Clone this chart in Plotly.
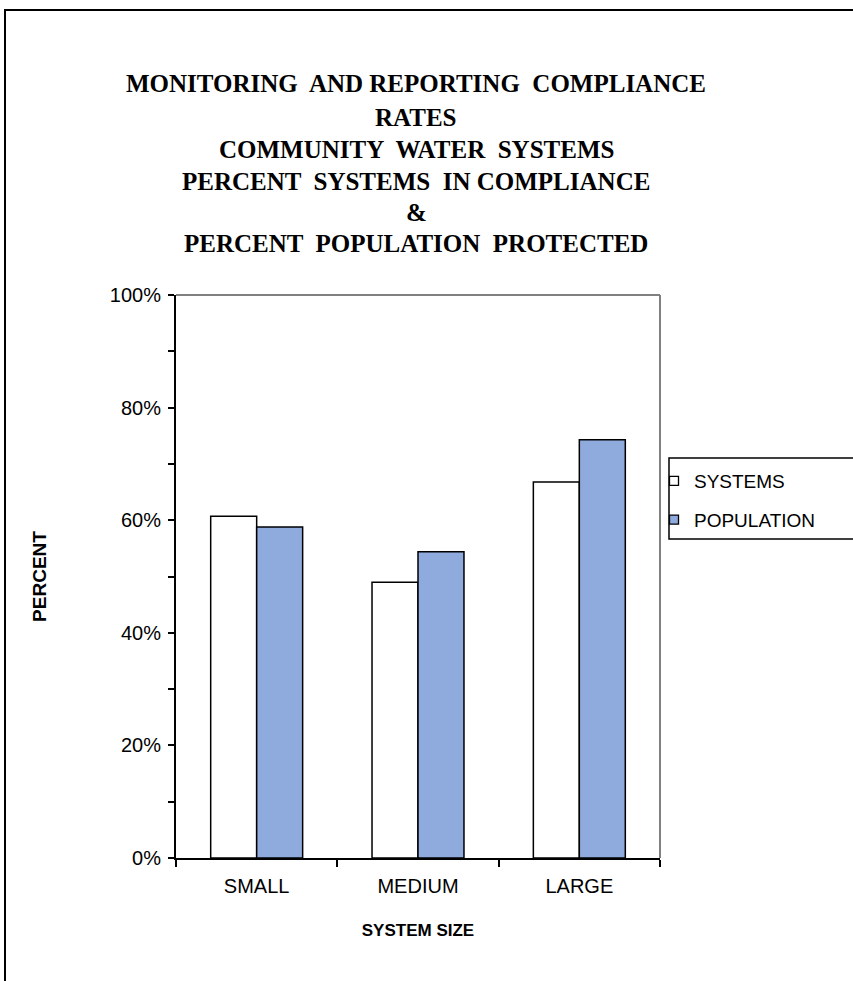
import plotly.graph_objects as go

categories = ["SMALL", "MEDIUM", "LARGE"]
systems = [0.607, 0.490, 0.668]
population = [0.588, 0.544, 0.743]
series_names = ["SYSTEMS", "POPULATION"]
series_colors = ["white", "#8FAADC"]
title_lines = [
    "MONITORING  AND REPORTING  COMPLIANCE",
    "RATES",
    "COMMUNITY  WATER  SYSTEMS",
    "PERCENT  SYSTEMS  IN COMPLIANCE",
    "&",
    "PERCENT  POPULATION  PROTECTED",
]

W, H = 853, 981
L, R, T, B = 176, 660, 295, 858


def px_x(px):
    return (px - L) / (R - L)


def px_y(py):
    return (B - py) / (B - T)


fig = go.Figure()
for name, vals, col, grp in zip(series_names, [systems, population], series_colors, ["a", "b"]):
    fig.add_trace(go.Bar(x=categories, y=vals, name=name, showlegend=False,
                         marker=dict(color=col, line=dict(color="black", width=1.5)),
                         legendgroup=grp))
    fig.add_trace(go.Scatter(x=[None], y=[None], name=name, mode="markers", legendgroup=grp,
                             marker=dict(symbol="square", size=9, color=col,
                                         line=dict(color="black", width=1.3))))

title_y = [84, 117, 149, 181, 212, 243]
for txt, ty in zip(title_lines, title_y):
    fig.add_annotation(x=px_x(416), y=px_y(ty), xref="paper", yref="paper",
                       text=f"<b>{txt}</b>", showarrow=False, xanchor="center", yanchor="middle",
                       font=dict(family="Liberation Serif", size=25, color="black"))

sans = "Liberation Sans"
fig.update_layout(
    width=W, height=H,
    margin=dict(l=L, r=W - R, t=T, b=H - B),
    paper_bgcolor="white", plot_bgcolor="white",
    bargap=0.43, bargroupgap=0,
    showlegend=True,
    legend=dict(x=px_x(654), y=px_y(462), xanchor="left", yanchor="top",
                bgcolor="rgba(0,0,0,0)", borderwidth=0,
                font=dict(family=sans, size=19, color="black"),
                traceorder="grouped", tracegroupgap=11),
    font=dict(family=sans, color="black"),
    xaxis=dict(showline=True, linecolor="black", linewidth=2, ticks="outside",
               tickson="boundaries", ticklen=7, tickcolor="black", tickwidth=1.5,
               ticklabelstandoff=9,
               tickfont=dict(family=sans, size=20, color="black"),
               title=dict(text="<b>SYSTEM SIZE</b>", font=dict(family=sans, size=17, color="black"), standoff=28),
               showgrid=False, zeroline=False),
    yaxis=dict(range=[0, 1], dtick=0.2, tickformat=".0%", showline=True, linecolor="black", linewidth=2,
               ticks="outside", ticklen=6, tickcolor="black", tickwidth=1.5,
               ticklabelstandoff=3,
               minor=dict(dtick=0.1, ticks="outside", ticklen=6, tickcolor="black", tickwidth=1.5),
               tickfont=dict(family=sans, size=20, color="black"),
               title=dict(text="<b>PERCENT</b>", font=dict(family=sans, size=19, color="black"), standoff=58),
               showgrid=False, zeroline=False),
    shapes=[
        dict(type="line", xref="paper", yref="paper", x0=0, x1=1, y0=1, y1=1,
             line=dict(color="#808080", width=2)),
        dict(type="line", xref="paper", yref="paper", x0=1, x1=1, y0=0, y1=1,
             line=dict(color="#808080", width=2)),
        dict(type="rect", xref="paper", yref="paper", x0=px_x(669), x1=px_x(880),
             y0=px_y(539), y1=px_y(458), line=dict(color="black", width=1.5)),
        dict(type="rect", xref="paper", yref="paper", x0=px_x(5), x1=px_x(900),
             y0=px_y(1010), y1=px_y(10), line=dict(color="black", width=2)),
    ],
)

fig.write_html("out.html")
